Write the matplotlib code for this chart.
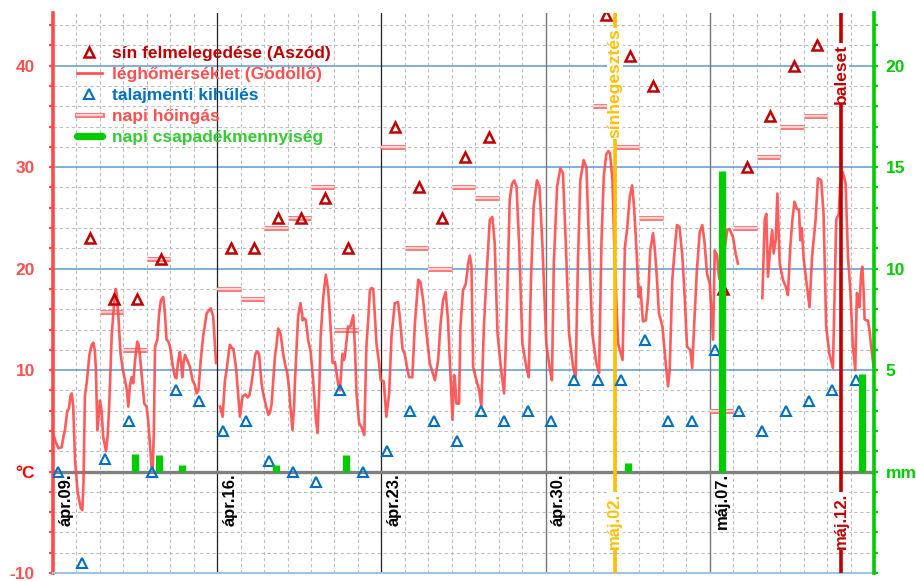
import numpy as np
import matplotlib
matplotlib.use("Agg")
import matplotlib.pyplot as plt
from matplotlib.lines import Line2D
from matplotlib.ticker import MultipleLocator, FixedLocator
import matplotlib.patheffects as pe

plt.rcParams['font.family'] = ['Liberation Sans', 'DejaVu Sans']
plt.rcParams['font.weight'] = 'bold'

# =========================
# DATA (x = days since ápr.09. 00:00)
# =========================

# rail temperature max (Aszód), measured around 14h
rail_day = [1, 2, 3, 4, 7, 8, 9, 10, 11, 12, 14, 15, 16, 17, 18, 23, 24, 25, 28, 29, 30, 31, 32]
rail_temp = [23, 17, 17, 21, 22, 22, 25, 25, 27, 22, 34, 28, 25, 31, 33, 45, 41, 38, 18, 30, 35, 40, 42]
RAIL_HOUR = 14

# ground minimum, measured around 5-6h
ground_day = list(range(0, 35))
ground_temp = [0, -9, 1.2, 5, 0, 8, 7, 4, 5, 1, 0, -1, 8, 0, 2, 6, 5, 3, 6, 5,
               6, 5, 9, 9, 9, 13, 5, 5, 12, 6, 4, 6, 7, 8, 9]
GROUND_HOUR = 5.5

# daily swing, one bar per day
swing_day = [2, 3, 4, 7, 8, 9, 10, 11, 12, 14, 15, 16, 17, 18, 23, 24, 25, 28, 29, 30, 31, 32]
swing_val = [15.7, 12, 21, 18, 17, 24, 25, 28, 14, 32, 22, 20, 28, 27, 36, 32, 25, 6, 24, 31, 34, 35]

# daily precipitation (mm)
rain_day = [3, 4, 5, 9, 12, 24, 28, 34]
rain_mm = [0.85, 0.8, 0.3, 0.3, 0.8, 0.4, 14.8, 4.8]

# air temperature (Gödöllő); nan = missing data
air_t = [0.00, 0.10, 0.23, 0.37, 0.45, 0.51, 0.61, 0.68, 0.75, 0.80, 0.86, 0.94, 1.05, 1.18, 1.25, 1.30,
         1.36, 1.45, 1.55, 1.65, 1.72, 1.78, 1.83, 1.89, 1.93, 2.00, 2.07, 2.14, 2.26, 2.33, 2.40, 2.50,
         2.60, 2.67, 2.72, 2.78, 2.88, 2.98, 3.07, 3.15, 3.21, 3.28, 3.35, 3.42, 3.50, 3.59, 3.65, 3.71,
         3.80, 3.89, 3.99, 4.06, 4.13, 4.20, 4.25, 4.30, 4.35, 4.45, 4.52, 4.60, 4.70, 4.77, 4.84, 4.92,
         4.99, 5.10, 5.20, 5.26, 5.34, 5.41, 5.47, 5.51, 5.57, 5.63, 5.72, 5.84, 5.95, 6.05, 6.12, 6.20,
         6.30, 6.40, 6.55, 6.62, 6.72, 6.83, 6.95, np.nan,
         7.12, 7.23, 7.33, 7.40, 7.48, 7.54, 7.62, 7.69, 7.80, 7.90, 7.97, 8.08, 8.20, 8.30, 8.37, 8.45,
         8.54, 8.62, 8.68, 8.74, 8.79, 8.89, 8.96, 9.08, 9.18, 9.25, 9.32, 9.46, 9.53, 9.60, 9.66, 9.70,
         9.82, 9.90, 9.99, 10.07, 10.13, 10.21, 10.28, 10.31, 10.45, 10.55, 10.62, 10.64, 10.72, 10.78,
         10.88, 10.98, 11.09, 11.21, 11.28, 11.35, 11.41, 11.52, 11.60, 11.63, 11.73, 11.80, 11.87, 11.92,
         12.02, 12.10, 12.16, 12.23, 12.34, 12.40, 12.44, 12.52, 12.58, 12.68, 12.80, 12.87, 12.94, 13.05,
         13.15, 13.27, 13.36, 13.44, 13.51, 13.58, 13.65, 13.72, 13.79, 13.90, 13.97, 14.10, 14.21, 14.33,
         14.43, 14.57, 14.71, 14.78, 14.90, 14.99, 15.10, 15.18, 15.32, 15.42, 15.57, 15.66, 15.78, 15.89,
         16.06, 16.20, 16.28, 16.42, 16.52, 16.63, 16.74, 16.84, 16.94, 17.03, 17.10, 17.13, 17.20, 17.31,
         17.37, 17.48, 17.60, 17.70, 17.77, 17.84, 17.91, 18.05, 18.17, 18.26, 18.37, 18.48, 18.55, 18.62,
         18.73, 18.83, 18.95, 19.12, 19.23, 19.33, 19.47, 19.56, 19.66, 19.76, 19.87, 20.01, 20.18, 20.28,
         20.38, 20.49, 20.63, 20.74, 20.86, 21.03, 21.17, 21.27, 21.35, 21.49, 21.63, 21.74, 21.86, 22.00,
         22.17, 22.28, 22.38, 22.48, 22.62, 22.74, 22.85, 22.99, 23.16, 23.28, 23.38, 23.48, 23.59, 23.68,
         23.75, 23.85, 23.95, 24.09, 24.28, 24.38, 24.47, 24.59, 24.69, 24.77, 24.87, 24.97, 25.04, 25.15,
         25.27, 25.37, 25.46, 25.58, 25.65, 25.75, 25.83, 25.98, 26.12, 26.22, 26.29, 26.40, 26.50, 26.60,
         26.71, 26.83, 26.93, 27.03, 27.17, 27.25, 27.35, 27.45, 27.57, 27.68, 27.78, 27.88, 28.00, 28.14,
         28.21, 28.31, 28.40, 28.50, 28.63, 28.74, 28.84, 28.99, 29.10, 29.20, np.nan,
         30.24, 30.34, 30.41, 30.48, 30.58, 30.66, 30.72, 30.81, 30.88, 30.98, 31.12, 31.24, 31.33, 31.43,
         31.52, 31.61, 31.71, 31.80, 31.86, 31.92, 32.00, 32.11, 32.25, 32.36, 32.51, 32.61, 32.75, 32.85,
         32.96, 33.10, 33.25, 33.39, 33.50, 33.56, 33.67, 33.79, 33.89, 33.99, 34.10, 34.20, 34.27, 34.35,
         34.38, 34.45, 34.50, 34.55, 34.60, 34.67, 34.74, 34.81, 34.88, 35.00]
air_temp = [3.8, 3.0, 2.3, 2.4, 3.5, 4.1, 6.0, 6.2, 7.5, 7.7, 6.5, 1.1, -2.0, -3.6, -3.8, -1.0,
            7.4, 9.0, 11.5, 12.5, 12.7, 12.0, 10.0, 4.1, 5.0, 7.0, 6.0, 3.4, 2.0, 3.5, 6.7, 13.3,
            16.5, 18.0, 17.5, 15.6, 11.6, 10.0, 9.0, 8.0, 6.4, 8.5, 9.3, 8.7, 11.0, 12.8, 12.5, 11.3,
            9.0, 6.7, 6.4, 5.0, 2.8, 0.5, 0.2, 4.0, 12.3, 13.0, 15.5, 16.9, 17.2, 15.6, 13.0, 12.8,
            12.3, 10.5, 9.3, 9.2, 11.0, 11.8, 10.5, 9.3, 10.8, 11.5, 11.0, 10.3, 9.0, 8.5, 7.7, 8.0,
            11.0, 13.3, 15.6, 15.8, 16.1, 15.3, 10.7, np.nan,
            6.4, 5.4, 9.0, 10.0, 11.5, 12.5, 12.2, 12.1, 10.3, 7.4, 5.4, 7.4, 7.6, 7.3, 7.5, 8.5,
            10.0, 11.5, 11.8, 11.8, 11.5, 8.7, 7.7, 6.5, 5.6, 5.8, 6.7, 11.3, 12.5, 14.1, 13.8, 13.6,
            11.5, 10.5, 9.7, 8.0, 6.1, 4.1, 6.5, 8.7, 15.3, 16.6, 15.5, 14.9, 15.1, 14.9,
            12.9, 11.9, 9.0, 5.1, 3.8, 8.0, 13.3, 17.2, 18.8, 19.4, 17.9, 15.5, 12.6, 10.7,
            10.8, 9.5, 8.6, 8.0, 11.6, 11.0, 11.3, 13.0, 14.3, 14.3, 15.4, 12.3, 7.7, 4.75,
            4.4, 3.6, 12.3, 15.0, 17.9, 18.1, 18.0, 15.5, 12.6, 10.7, 9.0, 8.9, 5.4, 7.7,
            13.3, 16.6, 16.7, 15.3, 12.1, 11.6, 10.2, 9.3, 9.3, 14.3, 18.9, 18.7, 16.9, 14.3,
            10.7, 9.6, 9.0, 11.0, 14.5, 16.9, 17.7, 14.9, 9.7, 5.1, 9.5, 9.3, 6.7, 6.7,
            14.3, 17.9, 18.5, 20.5, 21.3, 20.2, 10.3, 9.0, 8.0, 6.4, 14.3, 19.2, 22.0, 24.8,
            25.1, 22.5, 13.6, 9.7, 7.7, 14.3, 26.8, 28.3, 28.7, 28.1, 22.5, 12.6, 10.3, 9.3,
            19.2, 26.1, 28.7, 28.1, 22.5, 12.6, 10.3, 9.0, 20.5, 28.1, 29.9, 29.4, 22.5, 13.6,
            10.3, 9.3, 20.8, 28.7, 30.7, 30.0, 22.5, 13.6, 10.7, 9.7, 22.5, 29.1, 31.3, 31.6,
            31.3, 28.7, 20.5, 12.6, 11.0, 22.1, 23.8, 27.1, 28.2, 26.1, 22.1, 17.2, 18.2, 14.8,
            14.9, 17.2, 21.8, 23.5, 22.1, 18.9, 15.6, 14.3, 10.7, 8.4, 10.0, 18.9, 21.8, 24.3,
            24.1, 21.2, 17.2, 12.3, 12.0, 10.2, 15.2, 19.9, 23.6, 24.3, 22.5, 19.5, 18.5, 13.0,
            21.8, 21.3, 19.0, 20.0, 21.8, 23.8, 23.9, 23.1, 21.5, 20.5, np.nan,
            17.1, 24.8, 25.4, 19.2, 22.1, 23.8, 21.5, 22.8, 27.4, 20.5, 18.9, 18.2, 17.4, 22.1,
            24.8, 26.6, 25.9, 25.8, 22.8, 24.0, 21.0, 18.9, 16.2, 21.2, 24.8, 28.9, 28.7, 25.4,
            14.3, 11.6, 10.2, 24.8, 25.4, 28.4, 29.5, 28.4, 21.2, 17.9, 12.3, 10.0, 17.6, 17.2,
            16.2, 19.5, 20.2, 18.2, 15.0, 14.9, 14.9, 13.9, 12.3, 10.0]

week_day = [0, 7, 14, 21, 28]
week_labels = ['ápr.09.', 'ápr.16.', 'ápr.23.', 'ápr.30.', 'máj.07.']
weld_day = 23.95      # sínhegesztés, máj.02.
accident_day = 33.6   # baleset, máj.12.

# colors
C_RAIL = '#C00000'
C_AIR = '#FF4B4B'
C_GROUND = '#0070C0'
C_SWING = '#FF7C7C'
C_RAIN = '#00CC00'
C_WELD = '#FFC000'

# =========================
# PLOT
# =========================
fig = plt.figure(figsize=(9.16, 5.81), dpi=100)
ax = fig.add_axes([53 / 916, 8 / 581, 821 / 916, 560 / 581])
ax2 = ax.twinx()

ax.set_xlim(0, 35)
ax.set_ylim(-10, 45.2)
ax2.set_ylim(-5, 22.6)

# grid
ax.xaxis.set_major_locator(MultipleLocator(1))
ax.tick_params(axis='x', length=0, labelbottom=False)
ax.yaxis.set_major_locator(FixedLocator([-10, 0, 10, 20, 30, 40]))
ax.yaxis.set_minor_locator(MultipleLocator(2))
ax.grid(axis='x', which='major', color='#BFBFBF', lw=0.8, ls=(0, (3, 2.5)))
ax.grid(axis='y', which='minor', color='#BFBFBF', lw=0.8, ls=(0, (3, 2.5)))
ax.grid(axis='y', which='major', color='#5B9BD5', lw=1.1, ls='-')
ax.set_axisbelow(True)

for d in week_day[1:3]:
    ax.axvline(d, color='#222222', lw=0.9, zorder=1.5)
for d in week_day[3:]:
    ax.axvline(d, color='#777777', lw=1.0, zorder=1.5)
ax.axhline(0, color='#808080', lw=2.4, zorder=2)

# spines
for s in ['top', 'right']:
    ax.spines[s].set_visible(False)
ax.spines['left'].set_color(C_AIR)
ax.spines['left'].set_linewidth(2.6)
ax.spines['bottom'].set_color('#9DC3E6')
ax.spines['bottom'].set_linewidth(1.5)
for s in ['top', 'left', 'bottom']:
    ax2.spines[s].set_visible(False)
ax2.spines['right'].set_color(C_RAIN)
ax2.spines['right'].set_linewidth(2.6)

# y tick labels
ax.set_yticklabels(['-10', '°C', '10', '20', '30', '40'])
ax.tick_params(axis='y', which='both', length=3, width=1.6, color=C_AIR,
               labelcolor='#FF5050', labelsize=12.5, pad=10)
ax.get_yticklabels()[1].set_color('#FF0000')

ax2.yaxis.set_major_locator(FixedLocator([0, 5, 10, 15, 20]))
ax2.yaxis.set_minor_locator(MultipleLocator(1))
ax2.set_yticklabels(['mm', '5', '10', '15', '20'])
ax2.tick_params(axis='y', which='both', length=3, width=1.6, color=C_RAIN,
                labelcolor=C_RAIN, labelsize=12.5, pad=5.5)

# daily swing bars
sx, sy = [], []
for d, v in zip(swing_day, swing_val):
    sx += [d, d + 1, np.nan]
    sy += [v, v, np.nan]
swing_fx = [pe.Stroke(linewidth=3.6, foreground=C_SWING), pe.Normal()]
ax.plot(sx, sy, color='#FFE4E4', lw=1.2, solid_capstyle='butt', zorder=3,
        path_effects=swing_fx)

# air temperature
ax.plot(air_t, air_temp, color=C_AIR, lw=1.9, alpha=0.9, zorder=4)

# markers
ax.plot(np.array(rail_day) + RAIL_HOUR / 24, rail_temp, ls='none', marker='^', ms=7.5,
        mfc='none', mec=C_RAIL, mew=1.8, zorder=6)
ax.plot(np.array(ground_day) + GROUND_HOUR / 24, ground_temp, ls='none', marker='^', ms=7.5,
        mfc='none', mec=C_GROUND, mew=1.5, zorder=6)

# event lines
ax.axvline(weld_day, color=C_WELD, lw=2.6, zorder=5)
ax.axvline(accident_day, color=C_RAIL, lw=2.6, zorder=5)
white = dict(facecolor='white', edgecolor='none', pad=0.5)
ax.text(weld_day, 43.7, 'sínhegesztés', rotation=90, ha='center', va='top',
        color=C_WELD, fontsize=12.5, bbox=white, zorder=7)
ax.text(accident_day, 42.2, 'baleset', rotation=90, ha='center', va='top',
        color=C_RAIL, fontsize=12.5, bbox=white, zorder=7)
ax.text(weld_day, -2.1, 'máj.02.', rotation=90, ha='center', va='top',
        color=C_WELD, fontsize=12, bbox=white, zorder=7)
ax.text(accident_day, -2.1, 'máj.12.', rotation=90, ha='center', va='top',
        color=C_RAIL, fontsize=12, bbox=white, zorder=7)
for d, lab in zip(week_day, week_labels):
    ax.text(d + 0.55, -0.15, lab, rotation=90, ha='center', va='top',
            color='black', fontsize=12, zorder=7)

# precipitation on the right axis
rx, ry = [], []
for d, v in zip(rain_day, rain_mm):
    rx += [d + 0.5, d + 0.5, np.nan]
    ry += [0, v, np.nan]
ax2.plot(rx, ry, color=C_RAIN, lw=5.2, solid_capstyle='butt', zorder=3)

# legend
handles = [
    Line2D([], [], ls='none', marker='^', ms=7.5, mfc='none', mec=C_RAIL, mew=1.8),
    Line2D([], [], color=C_AIR, lw=1.9),
    Line2D([], [], ls='none', marker='^', ms=7.5, mfc='none', mec=C_GROUND, mew=1.5),
    Line2D([], [], color='#FFE4E4', lw=1.2, path_effects=swing_fx),
    Line2D([], [], color=C_RAIN, lw=5.2, solid_capstyle='round'),
]
labels = ['sín felmelegedése (Aszód)', 'léghőmérséklet (Gödöllő)', 'talajmenti kihűlés',
          'napi hőingás', 'napi csapadékmennyiség']
text_colors = [C_RAIL, '#FF5050', C_GROUND, '#FF5050', '#33CC33']
leg = ax2.legend(handles, labels, loc='upper left', bbox_to_anchor=(0.029, 0.941),
                 frameon=False, fontsize=12.5, borderpad=0, handlelength=1.45,
                 handletextpad=0.6, labelspacing=0.33, borderaxespad=0)
for t, c in zip(leg.get_texts(), text_colors):
    t.set_color(c)

fig.savefig('out.png', dpi=100)
